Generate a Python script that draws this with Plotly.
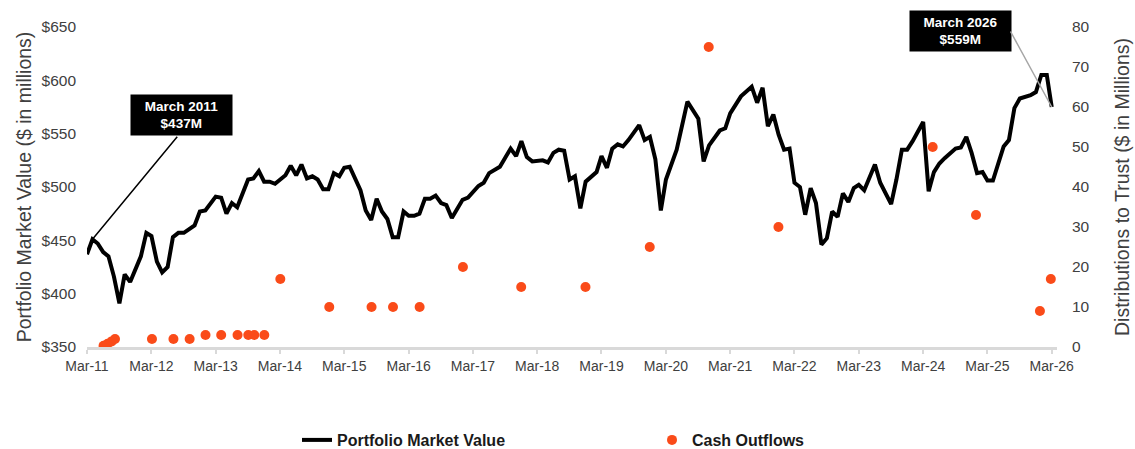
import pandas as pd
import plotly.graph_objects as go

# ---------------- data ----------------
start_month = "2011-03-01"
line_month_offsets = [0, 1, 2, 3, 4, 5, 6, 7, 8, 10, 11, 12, 13, 14, 15, 16, 17, 18, 20, 21, 22, 24, 25, 26,
                      27, 28, 30, 31, 32, 33, 34, 35, 37, 38, 39, 40, 41, 42, 43, 44, 45, 46, 47, 48, 49, 50,
                      51, 52, 53, 54, 55, 56, 57, 58, 59, 60, 61, 62, 63, 64, 65, 66, 67, 68, 69, 70, 71, 73,
                      74, 75, 77, 79, 80, 81, 82, 83, 85, 86, 87, 88, 89, 90, 91, 92, 93, 95, 96, 97, 98, 99,
                      100, 101, 103, 104, 105, 106, 107, 108, 110, 112, 114, 115, 116, 117, 118, 119, 120,
                      122, 124, 125, 126, 127, 128, 129, 130, 131, 132, 133, 134, 135, 136, 137, 138, 139,
                      140, 141, 142, 143, 144, 145, 147, 148, 150, 151, 152, 153, 154, 156, 157, 158, 159,
                      160, 162, 163, 164, 165, 166, 167, 168, 169, 170, 171, 172, 173, 174, 176, 177, 178,
                      179, 180]
portfolio_value = [437, 451, 447, 439, 435, 416, 391, 418, 411, 435, 457, 454, 430, 420, 425, 453, 457, 457,
                   464, 477, 478, 491, 490, 475, 485, 481, 507, 508, 515, 505, 505, 503, 511, 520, 511, 521,
                   508, 510, 507, 498, 498, 513, 510, 518, 519, 507, 497, 478, 469, 489, 477, 470, 453, 453,
                   477, 473, 473, 475, 489, 489, 492, 485, 483, 471, 480, 488, 490, 501, 504, 513, 519, 536,
                   529, 543, 528, 524, 525, 523, 532, 535, 534, 507, 510, 480, 505, 514, 529, 518, 536, 540,
                   538, 544, 558, 544, 547, 526, 478, 507, 535, 580, 564, 524, 539, 546, 553, 555, 569, 585,
                   594, 579, 593, 557, 568, 549, 535, 536, 504, 500, 474, 499, 485, 446, 452, 477, 472, 494,
                   486, 499, 502, 497, 521, 504, 484, 507, 535, 535, 543, 561, 496, 514, 522, 527, 536, 537,
                   547, 532, 513, 514, 506, 506, 522, 538, 544, 574, 583, 586, 589, 605, 605, 575]

cash_dates = ["2011-06-03", "2011-06-26", "2011-07-19", "2011-08-07", "2012-03-04", "2012-07-04",
              "2012-10-04", "2013-01-02", "2013-04-01", "2013-07-03", "2013-09-02", "2013-10-06",
              "2013-12-02", "2014-03-03", "2014-12-06", "2015-08-03", "2015-12-03", "2016-05-02",
              "2017-01-03", "2017-11-30", "2018-11-30", "2019-11-30", "2020-10-30", "2021-11-30",
              "2024-04-24", "2024-12-26", "2025-12-24", "2026-02-24"]
cash_outflows = [0.3, 0.8, 1.4, 2, 2, 2, 2, 3, 3, 3, 3, 3, 3, 17, 10, 10, 10, 10, 20, 15, 15, 25, 75, 30,
                 50, 33, 9, 17]

tick_years = list(range(2011, 2027))
tick_labels = ["Mar-11", "Mar-12", "Mar-13", "Mar-14", "Mar-15", "Mar-16", "Mar-17", "Mar-18",
               "Mar-19", "Mar-20", "Mar-21", "Mar-22", "Mar-23", "Mar-24", "Mar-25", "Mar-26"]
left_ticks = [350, 400, 450, 500, 550, 600, 650]
left_tick_labels = ["$350", "$400", "$450", "$500", "$550", "$600", "$650"]
right_ticks = [0, 10, 20, 30, 40, 50, 60, 70, 80]

# ---------------- build ----------------
base = pd.Timestamp(start_month)
line_dates = [base + pd.DateOffset(months=m) for m in line_month_offsets]
tick_vals = [pd.Timestamp(f"{y}-03-01") for y in tick_years]
x_range = ["2011-03-01", "2026-03-31"]

FONT = "Liberation Sans, Arial, sans-serif"
ORANGE = "#FA4B19"
GREY_TXT = "#404040"
AXIS_GREY = "#d9d9d9"

fig = go.Figure()
fig.add_trace(go.Scatter(
    x=line_dates, y=portfolio_value, mode="lines", name="Portfolio Market Value",
    line=dict(color="black", width=4), yaxis="y", legend="legend"))
fig.add_trace(go.Scatter(
    x=pd.to_datetime(cash_dates), y=cash_outflows, mode="markers", name="Cash Outflows",
    marker=dict(color=ORANGE, size=10), yaxis="y2", legend="legend2"))

fig.update_layout(
    width=1135, height=449,
    margin=dict(l=87, r=78, t=27, b=102, autoexpand=False),
    paper_bgcolor="white", plot_bgcolor="white",
    font=dict(family=FONT, color=GREY_TXT),
    xaxis=dict(type="date", range=x_range,
               tickvals=tick_vals, ticktext=tick_labels,
               showgrid=False, zeroline=False,
               showline=True, linecolor=AXIS_GREY, linewidth=3,
               ticks="outside", tickcolor=AXIS_GREY, tickwidth=2, ticklen=4,
               tickfont=dict(size=14, color=GREY_TXT)),
    xaxis2=dict(type="date", range=x_range, overlaying="x", anchor="y",
                tickvals=tick_vals, showticklabels=False,
                showgrid=False, zeroline=False, showline=False,
                ticks="inside", tickcolor=AXIS_GREY, tickwidth=2, ticklen=4),
    yaxis=dict(range=[350, 650], tickvals=left_ticks, ticktext=left_tick_labels,
               showgrid=False, zeroline=False, showline=False, ticks="",
               ticklabelstandoff=10,
               tickfont=dict(size=15.5, color=GREY_TXT),
               title=dict(text="Portfolio Market Value ($ in millions)",
                          font=dict(size=19.5, color=GREY_TXT), standoff=4)),
    yaxis2=dict(range=[0, 80], tickvals=right_ticks, overlaying="y", side="right",
                showgrid=False, zeroline=False, showline=False, ticks="",
                ticklabelstandoff=14,
                tickfont=dict(size=15.5, color=GREY_TXT),
                title=dict(text="Distributions to Trust ($ in Millions)",
                           font=dict(size=19.5, color=GREY_TXT), standoff=26)),
    legend=dict(x=(297 - 87) / 970, y=(347 - 440) / 320, xanchor="left", yanchor="middle",
                orientation="h", bgcolor="rgba(0,0,0,0)",
                font=dict(size=16, color="#1a1a1a", weight="bold")),
    legend2=dict(x=(652 - 87) / 970, y=(347 - 440) / 320, xanchor="left", yanchor="middle",
                 orientation="h", bgcolor="rgba(0,0,0,0)",
                 font=dict(size=16, color="#1a1a1a", weight="bold")),
    showlegend=True,
)

box_font = dict(family=FONT, size=13.5, color="white", weight="bold")
# Label boxes
fig.add_annotation(xref="paper", yref="paper", x=(181.3 - 87) / 970, y=(347 - 115) / 320,
                   text="March 2011<br>$" + f"{portfolio_value[0]}M", showarrow=False,
                   bgcolor="black", font=box_font, width=93, height=32, borderpad=4,
                   xanchor="center", yanchor="middle", align="center")
fig.add_annotation(xref="paper", yref="paper", x=(960.3 - 87) / 970, y=(347 - 30.8) / 320,
                   text="March 2026<br>$559M", showarrow=False,
                   bgcolor="black", font=box_font, width=93, height=32, borderpad=4,
                   xanchor="center", yanchor="middle", align="center")
# Connector lines
fig.add_annotation(x=line_dates[1], y=portfolio_value[1], xref="x", yref="y",
                   text="", showarrow=True, arrowhead=0, arrowwidth=1.5, arrowcolor="black",
                   axref="pixel", ayref="pixel", ax=86, ay=-104)
fig.add_annotation(x=line_dates[-1], y=portfolio_value[-1], xref="x", yref="y",
                   text="", showarrow=True, arrowhead=0, arrowwidth=1.5, arrowcolor="#a6a6a6",
                   axref="pixel", ayref="pixel", ax=-42, ay=-77)

fig.write_html("out.html", config={"displayModeBar": False},
               post_script="document.body.style.margin='0px';")
